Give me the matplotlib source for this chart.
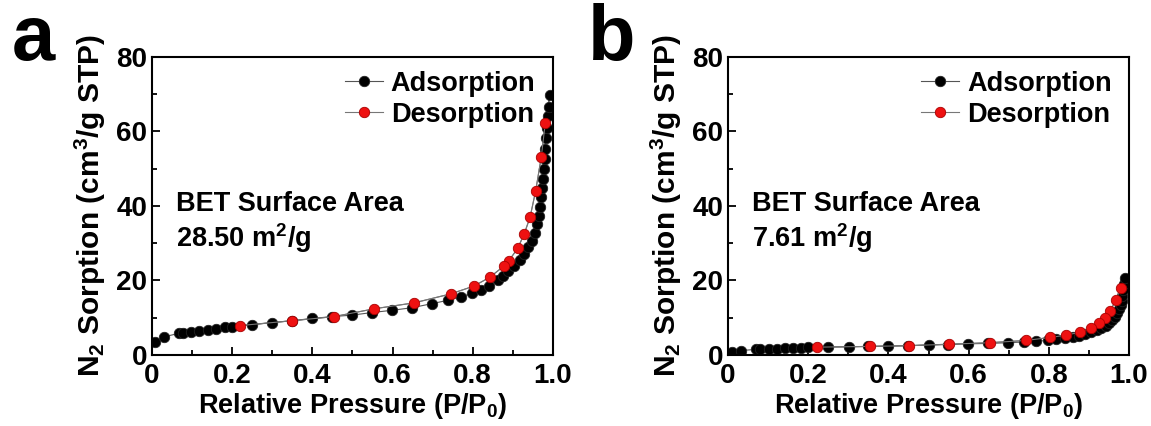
import matplotlib
matplotlib.use('Agg')
import matplotlib.pyplot as plt
from matplotlib.ticker import MultipleLocator, FuncFormatter

plt.rcParams['font.family'] = 'Liberation Sans'
plt.rcParams['font.weight'] = 'bold'
plt.rcParams['axes.labelweight'] = 'bold'
plt.rcParams['mathtext.fontset'] = 'custom'
plt.rcParams['mathtext.rm'] = 'Liberation Sans:bold'
plt.rcParams['mathtext.it'] = 'Liberation Sans:bold'
plt.rcParams['mathtext.bf'] = 'Liberation Sans:bold'

# Panel a - adsorption / desorption branches
ads_x_a = [0.008, 0.031, 0.067, 0.077, 0.098, 0.118, 0.139, 0.16, 0.181, 0.2,
           0.249, 0.299, 0.349, 0.399, 0.449, 0.499, 0.549, 0.599, 0.649, 0.699,
           0.739, 0.77, 0.799, 0.82, 0.84, 0.862, 0.875, 0.889, 0.903, 0.917,
           0.928, 0.939, 0.948, 0.955, 0.96, 0.965, 0.968, 0.971, 0.973, 0.975,
           0.977, 0.979, 0.981, 0.983, 0.985, 0.987, 0.989, 0.992]
ads_y_a = [3.6, 4.9, 5.8, 6.0, 6.3, 6.5, 6.8, 7.1, 7.4, 7.6,
           8.1, 8.7, 9.2, 9.8, 10.3, 10.7, 11.4, 12.0, 12.7, 13.8,
           14.7, 15.6, 16.6, 17.4, 18.5, 20.0, 21.2, 22.5, 24.0, 25.5,
           27.2, 28.9, 30.7, 32.8, 35.2, 37.4, 39.8, 42.5, 44.9, 47.2,
           49.8, 52.5, 55.2, 58.3, 60.9, 64.2, 66.7, 69.8]
des_x_a = [0.981, 0.971, 0.957, 0.943, 0.928, 0.912, 0.89, 0.878, 0.843,
           0.803, 0.745, 0.654, 0.554, 0.454, 0.35, 0.22]
des_y_a = [62.4, 53.2, 44.1, 37.0, 32.4, 28.6, 25.3, 23.9, 20.9,
           18.5, 16.4, 14.0, 12.4, 10.3, 9.2, 7.9]

# Panel b
ads_x_b = [0.011, 0.033, 0.071, 0.08, 0.101, 0.122, 0.143, 0.163, 0.183, 0.2,
           0.25, 0.301, 0.35, 0.4, 0.45, 0.5, 0.549, 0.599, 0.649, 0.699,
           0.739, 0.769, 0.798, 0.819, 0.84, 0.861, 0.876, 0.89, 0.905, 0.919,
           0.931, 0.942, 0.95, 0.958, 0.965, 0.971, 0.975, 0.979, 0.982, 0.983,
           0.986, 0.988, 0.99]
ads_y_b = [0.7, 1.2, 1.5, 1.5, 1.6, 1.7, 1.8, 1.9, 2.0, 2.1,
           2.15, 2.2, 2.3, 2.4, 2.5, 2.7, 2.8, 3.0, 3.1, 3.3,
           3.5, 3.7, 3.9, 4.2, 4.5, 4.8, 5.2, 5.6, 6.1, 6.6,
           7.3, 7.9, 8.6, 9.4, 10.3, 11.2, 12.3, 13.4, 14.6, 15.9,
           17.5, 19.1, 20.7]
des_x_b = [0.979, 0.967, 0.953, 0.939, 0.925, 0.906, 0.877, 0.842, 0.802,
           0.743, 0.653, 0.552, 0.452, 0.353, 0.222]
des_y_b = [17.9, 14.8, 11.7, 9.9, 8.5, 7.3, 6.1, 5.3, 4.7,
           3.9, 3.3, 2.9, 2.5, 2.3, 2.1]

panels = [
    ('a', ads_x_a, ads_y_a, des_x_a, des_y_a, '28.50 m$^2$/g', 0.132),
    ('b', ads_x_b, ads_y_b, des_x_b, des_y_b, '7.61 m$^2$/g', 0.6325),
]

fig = plt.figure(figsize=(11.51, 4.26), dpi=100)

for label, ax_x, ax_y, dx, dy, bet, left in panels:
    ax = fig.add_axes([left, 0.1667, 0.3484, 0.6995])
    # desorption branch joins the top adsorption point
    ax.plot([ax_x[-1]] + dx, [ax_y[-1]] + dy, '-', color='#777777', lw=0.8)
    ax.plot(ax_x, ax_y, '-o', color='#555555', lw=0.8, ms=7.5,
            mfc='black', mec='#222222', mew=0.6, label='Adsorption')
    ax.plot(dx, dy, 'o', ls='-', color='#777777', lw=0.8, ms=7.5,
            mfc='#ee1111', mec='#aa0000', mew=0.6, label='Desorption')
    ax.set_xlim(0, 1.0)
    ax.set_ylim(0, 80)
    ax.xaxis.set_major_locator(MultipleLocator(0.2))
    ax.xaxis.set_minor_locator(MultipleLocator(0.1))
    ax.yaxis.set_major_locator(MultipleLocator(20))
    ax.yaxis.set_minor_locator(MultipleLocator(10))
    ax.xaxis.set_major_formatter(FuncFormatter(lambda v, p: '0' if v == 0 else f'{v:.1f}'))
    ax.tick_params(which='both', direction='in', labelsize=20, width=1.3)
    ax.tick_params(axis='x', pad=6)
    ax.tick_params(which='major', length=6)
    ax.tick_params(which='minor', length=3.5)
    for s in ax.spines.values():
        s.set_linewidth(1.5)
    ax.set_xlabel('Relative Pressure (P/P$_0$)', fontsize=19.5, labelpad=1)
    ax.set_ylabel('N$_2$ Sorption (cm$^3$/g STP)', fontsize=21.5, labelpad=6)
    ax.text(0.06, 40.5, 'BET Surface Area', fontsize=19.5, va='center')
    ax.text(0.06, 31.5, bet, fontsize=19.5, va='center')
    ax.legend(loc='upper right', frameon=False, fontsize=19.5, handlelength=1.4,
              handletextpad=0.3, labelspacing=0.2, borderaxespad=0.1,
              bbox_to_anchor=(0.99, 1.0))
    fig.text(left - 0.122, 0.86, label, fontsize=56, fontweight='bold')

fig.savefig('out.png', dpi=100)
plt.close()
